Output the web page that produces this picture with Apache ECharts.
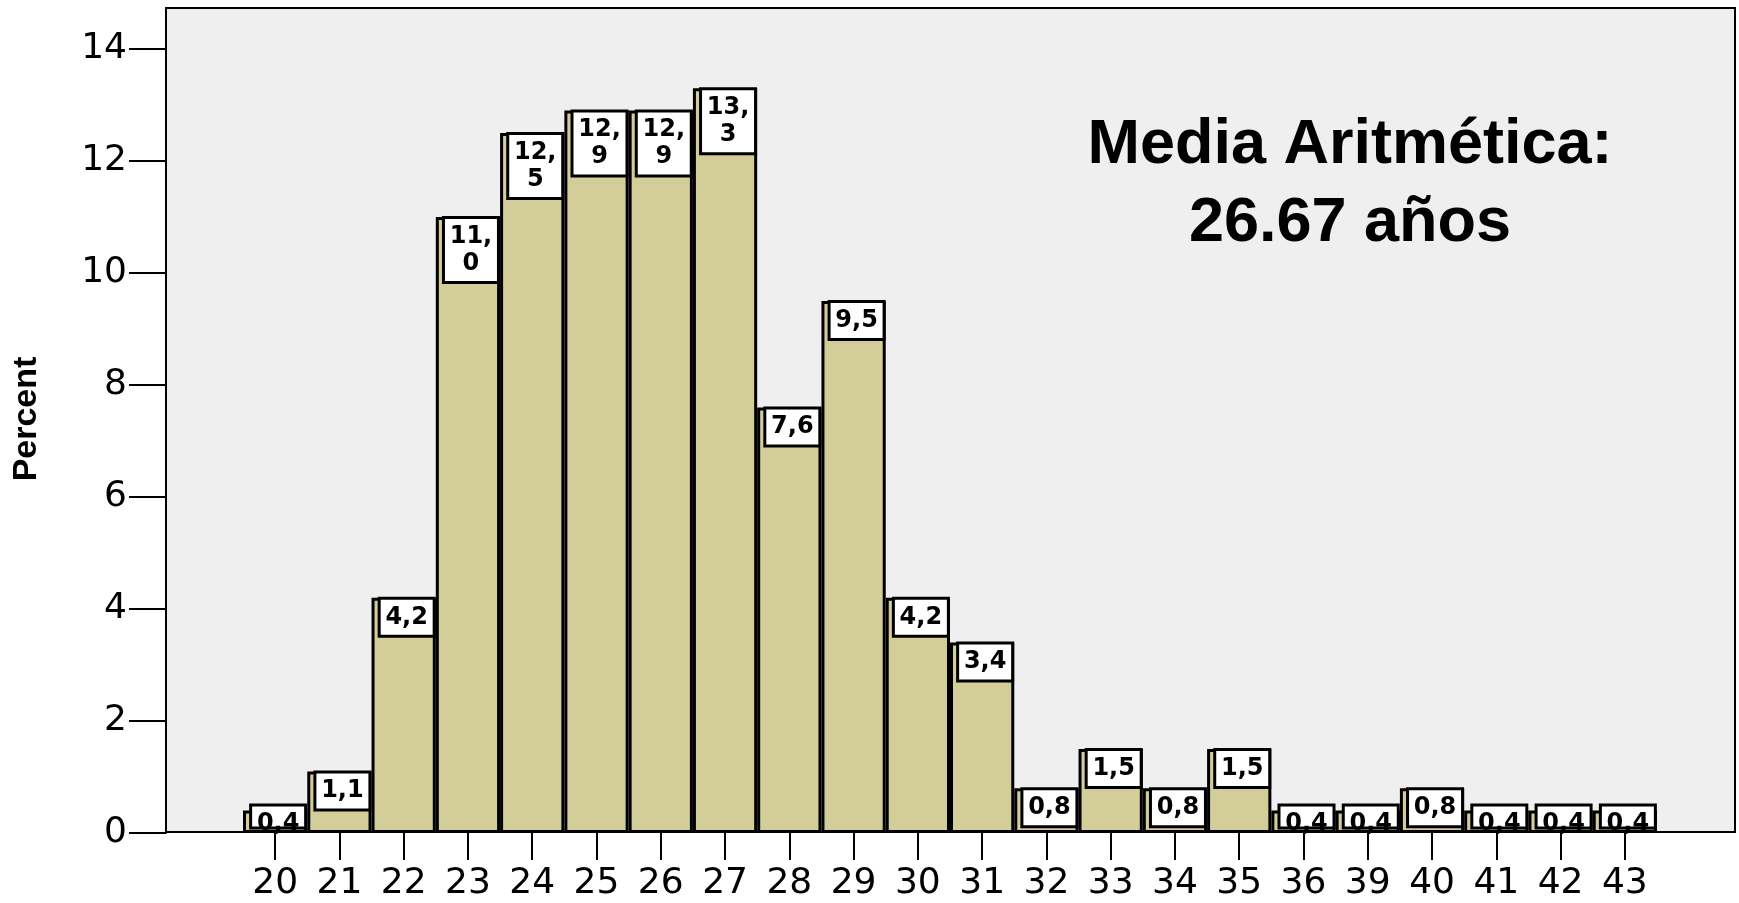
<!DOCTYPE html>
<html>
<head>
<meta charset="utf-8">
<script src="https://cdn.jsdelivr.net/npm/echarts@6/dist/echarts.min.js"></script>
<style>
html,body{margin:0;padding:0;background:#fff;}
#chart{width:1739px;height:903px;}
</style>
</head>
<body>
<div id="chart"></div>
<script>
const categories = ['20','21','22','23','24','25','26','27','28','29','30','31','32','33','34','35','36','39','40','41','42','43'];
const percents = [0.4, 1.1, 4.2, 11.0, 12.5, 12.9, 12.9, 13.3, 7.6, 9.5, 4.2, 3.4, 0.8, 1.5, 0.8, 1.5, 0.4, 0.4, 0.8, 0.4, 0.4, 0.4];
const yTicks = [0, 2, 4, 6, 8, 10, 12, 14];
const annotation = 'Media Aritmética:\n26.67 años';
const yName = 'Percent';

const FONT = '"Liberation Sans", Arial, Helvetica, sans-serif';
const WIDE = '"DejaVu Sans", "Liberation Sans", Arial, sans-serif';

function fmt(v) {
  const s = v.toFixed(1).replace('.', ',');
  if (s.length > 3) {
    const i = s.indexOf(',');
    return s.slice(0, i + 1) + '\n' + s.slice(i + 1);
  }
  return s;
}

const baseLabel = {
  show: true,
  position: 'insideTop',
  distance: 2,
  offset: [3, 0],
  formatter: p => fmt(p.value),
  fontFamily: WIDE,
  fontSize: 24,
  fontWeight: 'bold',
  color: '#000',
  lineHeight: 27,
  backgroundColor: '#fff',
  borderColor: '#000',
  borderWidth: 3,
  width: 46,
  align: 'center',
  padding: [4, 3, 4, 3]
};

const barData = percents.map(v => {
  if (v < 0.6) {
    return {
      value: v,
      label: { height: 16, padding: [4, 3, 0, 3], offset: [3, -6] }
    };
  }
  return { value: v };
});

const chart = echarts.init(document.getElementById('chart'), null, { renderer: 'canvas' });
chart.setOption({
  animation: false,
  backgroundColor: '#fff',
  grid: [
    { left: 166, top: 8, right: 4, bottom: 71, show: true, backgroundColor: '#EFEFEF', borderColor: '#000', borderWidth: 2 },
    { left: 243, top: 49, right: 82, bottom: 70 }
  ],
  xAxis: [
    { gridIndex: 0, type: 'value', show: false },
    {
      gridIndex: 1,
      type: 'category',
      data: categories,
      axisLine: { show: false },
      axisTick: { show: true, alignWithLabel: true, length: 27, lineStyle: { color: '#000', width: 2 } },
      axisLabel: { color: '#000', fontSize: 36, fontFamily: WIDE, margin: 33, interval: 0 },
      splitLine: { show: false }
    }
  ],
  yAxis: [
    { gridIndex: 0, type: 'value', show: false },
    {
      gridIndex: 1,
      type: 'value',
      min: yTicks[0],
      max: yTicks[yTicks.length - 1],
      interval: yTicks[1] - yTicks[0],
      offset: 77,
      axisLine: { show: true, lineStyle: { color: '#000', width: 2 } },
      axisTick: { show: true, length: 37, lineStyle: { color: '#000', width: 2 } },
      axisLabel: { color: '#000', fontSize: 36, fontFamily: WIDE, margin: 39 },
      splitLine: { show: false }
    }
  ],
  series: [{
    type: 'bar',
    xAxisIndex: 1,
    yAxisIndex: 1,
    data: barData,
    barCategoryGap: '0%',
    itemStyle: { color: '#D3CD99', borderColor: '#000', borderWidth: 3 },
    label: baseLabel
  }],
  graphic: [
    {
      type: 'text',
      x: 1350,
      y: 107,
      z: 100,
      style: {
        text: annotation,
        align: 'center',
        verticalAlign: 'top',
        fontFamily: FONT,
        fontSize: 63,
        fontWeight: 'bold',
        lineHeight: 78,
        fill: '#000'
      }
    },
    {
      type: 'text',
      x: 27,
      y: 419,
      rotation: Math.PI / 2,
      z: 100,
      style: {
        text: yName,
        align: 'center',
        verticalAlign: 'middle',
        fontFamily: FONT,
        fontSize: 34,
        fontWeight: 'bold',
        fill: '#000'
      }
    }
  ]
});
</script>
</body>
</html>
